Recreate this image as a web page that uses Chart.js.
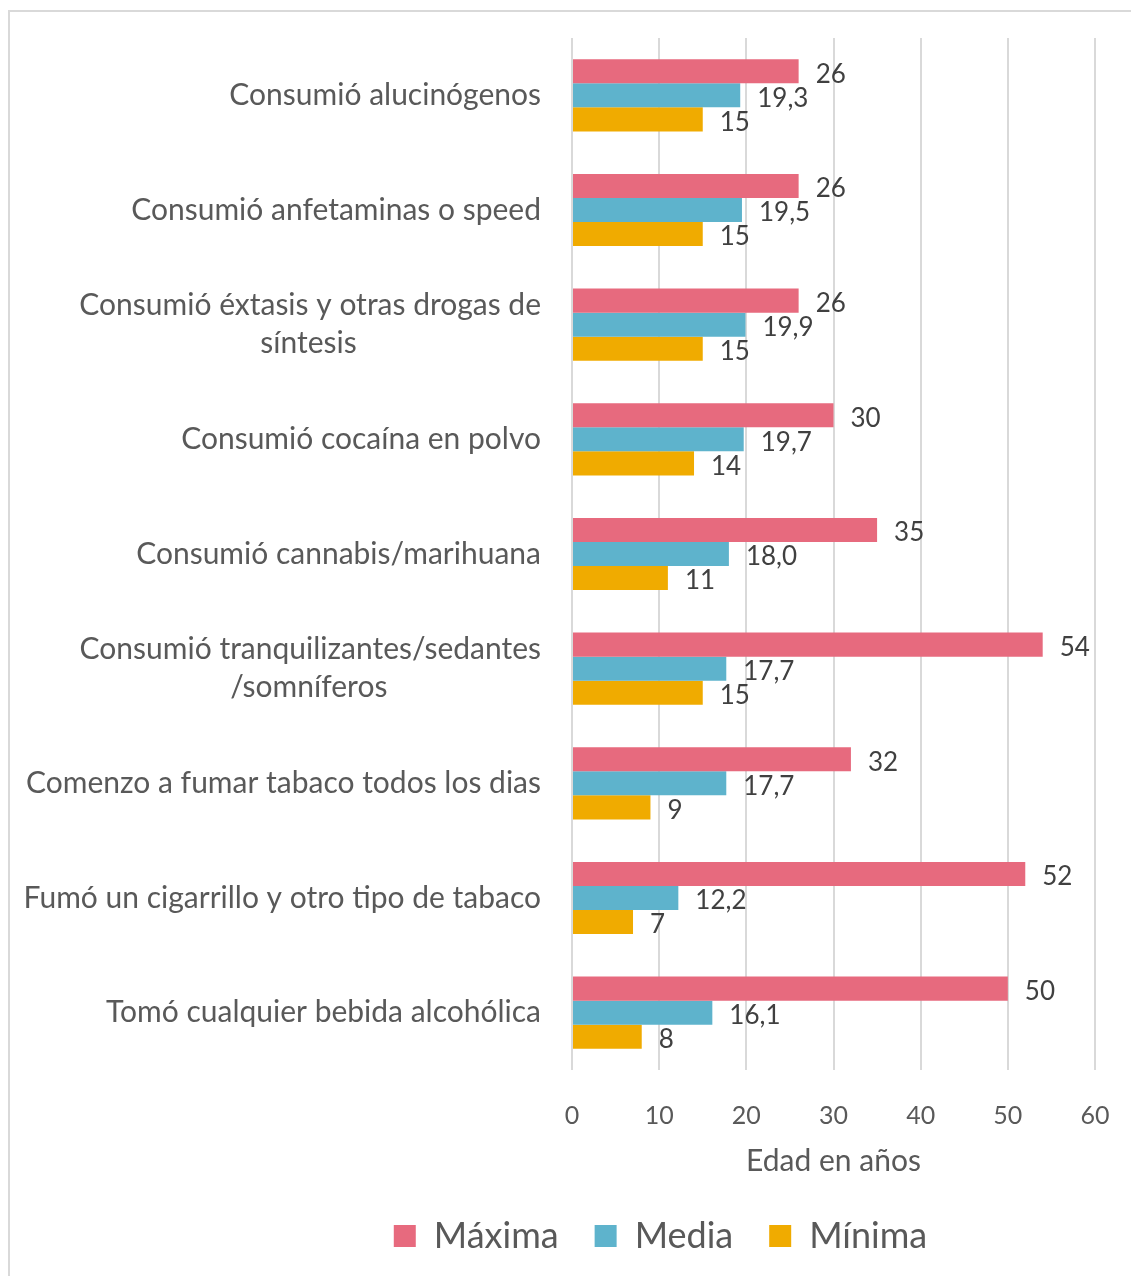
<!DOCTYPE html>
<html>
<head>
<meta charset="utf-8">
<script src="https://cdn.jsdelivr.net/npm/chart.js@4"></script>
<style>
  html, body { margin: 0; padding: 0; background: #fff; overflow: hidden; }
  #frame { position: absolute; left: 8px; top: 10px; width: 1140px; height: 1280px; border: 2px solid #d9d9d9; box-sizing: border-box; }
  #wrap { position: absolute; left: 0; top: 0; width: 1131px; height: 1276px; }
</style>
</head>
<body>
<div id="frame"></div>
<div id="wrap"><canvas id="chart"></canvas></div>
<script>
const CATEGORIES = [
  "Consumió alucinógenos",
  "Consumió anfetaminas o speed",
  ["Consumió éxtasis y otras drogas de", "síntesis"],
  "Consumió cocaína en polvo",
  "Consumió cannabis/marihuana",
  ["Consumió tranquilizantes/sedantes", "/somníferos"],
  "Comenzo a fumar tabaco todos los dias",
  "Fumó un cigarrillo y otro tipo de tabaco",
  "Tomó cualquier bebida alcohólica",
]

const MAXIMA = [26, 26, 26, 30, 35, 54, 32, 52, 50]
const MEDIA = [19.3, 19.5, 19.9, 19.7, 18.0, 17.7, 17.7, 12.2, 16.1]
const MINIMA = [15, 15, 15, 14, 11, 15, 9, 7, 8]

const X_TICKS = [0, 10, 20, 30, 40, 50, 60]

const PINK = "#e76a7e"
const BLUE = "#5eb3cc"
const GOLD = "#f0ab00"
const TEXT = "#595959"
const DARK = "#404040"
const GRID = "#d9d9d9"
const FONT = "Lato"
const CAT_SIZE = 30

// wrapped labels are centred line by line in the original,
// so pad the shorter lines with no-break spaces
const measure = document.createElement("canvas").getContext("2d")
measure.font = `${CAT_SIZE}px ${FONT}`

const centreLines = (label) => {
  if (!Array.isArray(label)) return label
  const widths = label.map((l) => measure.measureText(l).width)
  const widest = Math.max(...widths)
  const nb = measure.measureText("\u00a0").width
  return label.map((l, i) => l + "\u00a0".repeat(Math.round((widest - widths[i]) / 2 / nb)))
}

// plain value labels at the end of each bar
const barLabels = {
  id: "barLabels",
  afterDatasetsDraw: (chart) => {
    const { ctx } = chart
    ctx.save()
    ctx.font = `26px ${FONT}`
    ctx.fillStyle = DARK
    ctx.textAlign = "left"
    ctx.textBaseline = "middle"
    chart.data.datasets.forEach((ds, di) => {
      const meta = chart.getDatasetMeta(di)
      meta.data.forEach((bar, i) => {
        const v = ds.data[i]
        const txt = ds.decimals ? v.toFixed(1).replace(".", ",") : String(v)
        ctx.fillText(txt, bar.x + 17, bar.y + 3)
      })
    })
    ctx.restore()
  },
}

// the original legend sits right of the page centre
const legendShift = {
  id: "legendShift",
  afterLayout: (chart) => {
    chart.legend.left = 190
  },
}

new Chart(document.getElementById("chart"), {
  type: "bar",
  data: {
    labels: CATEGORIES,
    datasets: [
      { label: "Máxima", data: MAXIMA, backgroundColor: PINK, decimals: false },
      { label: "Media", data: MEDIA, backgroundColor: BLUE, decimals: true },
      { label: "Mínima", data: MINIMA, backgroundColor: GOLD, decimals: false },
    ],
  },
  options: {
    indexAxis: "y",
    animation: false,
    responsive: true,
    maintainAspectRatio: false,
    categoryPercentage: 0.63,
    barPercentage: 1.0,
    layout: {
      padding: { top: 38, right: 0, bottom: 12, left: 0 },
    },
    scales: {
      x: {
        min: 0,
        max: 60,
        afterBuildTicks: (scale) => {
          scale.ticks = X_TICKS.map((v) => ({ value: v }))
        },
        afterFit: (scale) => {
          scale.height = 112
          scale.paddingLeft = 0
          scale.paddingRight = 36
        },
        grid: { color: GRID, lineWidth: 2, drawTicks: false },
        border: { display: false },
        ticks: {
          color: TEXT,
          font: { family: FONT, size: 25 },
          padding: 31,
        },
        title: {
          display: true,
          text: "Edad en años",
          color: TEXT,
          font: { family: FONT, size: 30 },
          padding: { top: 12, bottom: 3 },
        },
      },
      y: {
        grid: { display: false, drawTicks: false },
        border: { display: false },
        afterFit: (scale) => {
          scale.width = 572
          scale.paddingTop = 0
          scale.paddingBottom = 0
        },
        ticks: {
          color: TEXT,
          font: { family: FONT, size: CAT_SIZE, lineHeight: 1.27 },
          padding: 31,
          callback: function (value) {
            return centreLines(this.getLabelForValue(value))
          },
        },
      },
    },
    plugins: {
      legend: {
        position: "bottom",
        labels: {
          color: TEXT,
          font: { family: FONT, size: 36 },
          boxWidth: 22,
          boxHeight: 22,
          padding: 36,
        },
      },
      tooltip: { enabled: false },
    },
  },
  plugins: [barLabels, legendShift],
})
</script>
</body>
</html>
